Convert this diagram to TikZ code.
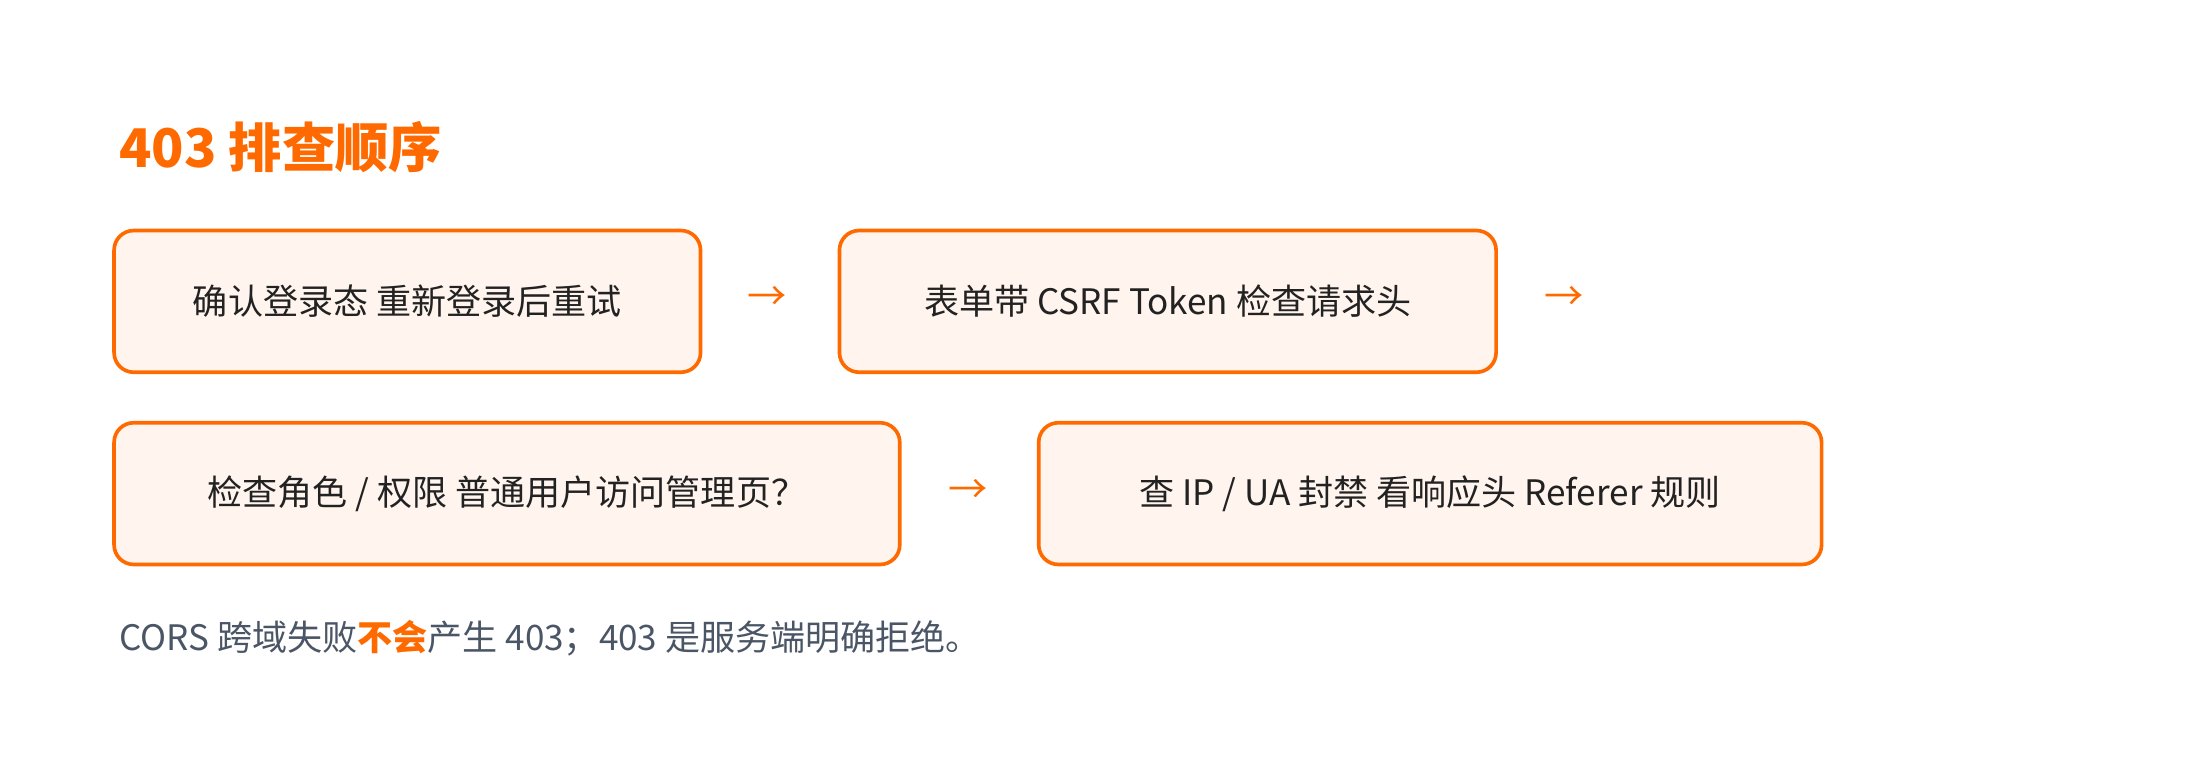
\documentclass[tikz,border=0pt]{standalone}
\usepackage{fontspec}
\setmainfont{Noto Sans CJK SC}
\definecolor{org}{HTML}{FF6A00}
\definecolor{boxfill}{HTML}{FFF5EE}
\definecolor{txt}{HTML}{222222}
\definecolor{foot}{HTML}{4A5565}
\begin{document}
\begin{tikzpicture}[x=0.5pt,y=-0.5pt,
  stepbox/.style={draw=org,line width=1.3pt,fill=boxfill,rounded corners=7pt,anchor=north west,inner sep=0pt,font=\fontsize{12.5pt}{15pt}\selectfont,text=txt},
  arr/.style={text=org,font=\fontsize{14pt}{16pt}\selectfont}]
\useasboundingbox (0,0) rectangle (1568,541.6);
\node[anchor=west,text=org,font=\bfseries\fontsize{19pt}{22pt}\selectfont] (t) at (78,105) {403 排查顺序};
\node[stepbox,minimum width=209pt,minimum height=50.5pt] (b1) at (80,163) {确认登录态 重新登录后重试};
\node[arr] (a1) at (547,213) {→};
\node[stepbox,minimum width=234pt,minimum height=50.5pt] (b2) at (597,163) {表单带 CSRF Token 检查请求头};
\node[arr] (a2) at (1115,213) {→};
\node[stepbox,minimum width=280pt,minimum height=50.5pt] (b3) at (80,300) {检查角色 / 权限 普通用户访问管理页？};
\node[arr] (a3) at (690,350) {→};
\node[stepbox,minimum width=279pt,minimum height=50.5pt] (b4) at (739,300) {查 IP / UA 封禁 看响应头 Referer 规则};
\node[anchor=west,text=foot,font=\fontsize{12.5pt}{15pt}\selectfont] (f) at (78,455) {CORS 跨域失败\textcolor{org}{\bfseries 不会}产生 403；403 是服务端明确拒绝。};
\end{tikzpicture}
\end{document}
